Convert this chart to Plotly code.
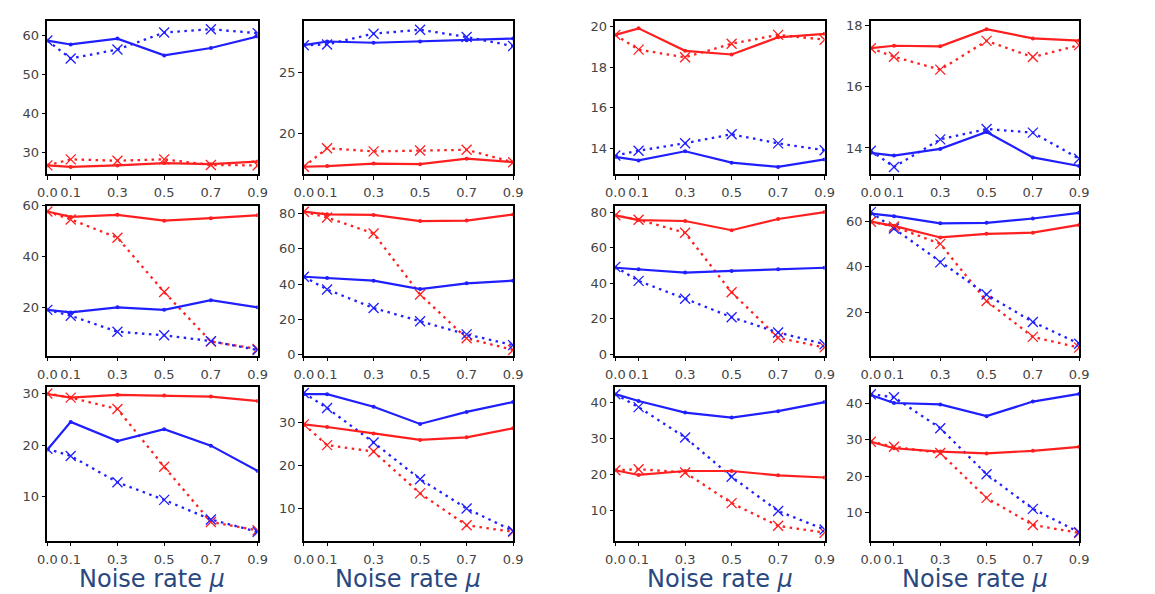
import plotly.graph_objects as go

# Noise rates on the x axis
noise = [0.0, 0.1, 0.3, 0.5, 0.7, 0.9]
tick_vals = [0.0, 0.1, 0.3, 0.5, 0.7, 0.9]
tick_text = ["0.0", "0.1", "0.3", "0.5", "0.7", "0.9"]

# Per-panel series (row-major, 3 rows x 4 columns)
red_solid = [
    [26.7, 26.3, 26.7, 27.3, 27.0, 27.7],
    [17.29, 17.34, 17.55, 17.5, 17.95, 17.66],
    [19.6, 19.92, 18.81, 18.63, 19.48, 19.65],
    [17.26, 17.34, 17.32, 17.88, 17.58, 17.51],
    [57.7, 55.6, 56.4, 54.1, 55.1, 56.2],
    [80.9, 79.4, 79.1, 75.6, 75.9, 79.3],
    [78.2, 75.5, 75.0, 69.8, 76.1, 80.0],
    [59.7, 57.9, 52.8, 54.4, 54.9, 58.3],
    [29.9, 29.2, 29.75, 29.6, 29.4, 28.55],
    [29.5, 28.9, 27.4, 25.9, 26.5, 28.6],
    [21.1, 19.8, 20.9, 20.9, 19.7, 19.1],
    [29.5, 27.7, 26.8, 26.3, 27.0, 28.1],
]
red_dotted = [
    [26.7, 28.25, 27.9, 28.25, 26.8, 26.7],
    [17.29, 18.8, 18.54, 18.62, 18.67, 17.66],
    [19.6, 18.87, 18.49, 19.16, 19.6, 19.36],
    [17.26, 16.98, 16.56, 17.5, 16.97, 17.36],
    [57.7, 54.6, 47.4, 26.0, 6.5, 3.6],
    [80.9, 77.6, 68.6, 34.1, 9.3, 2.7],
    [78.2, 75.7, 68.4, 34.9, 9.3, 3.9],
    [59.7, 57.6, 50.0, 25.0, 9.3, 4.6],
    [30.0, 29.2, 27.0, 15.8, 5.1, 3.5],
    [29.5, 24.7, 23.2, 13.5, 6.1, 4.6],
    [21.1, 21.4, 20.5, 12.0, 5.7, 3.8],
    [29.5, 28.1, 26.4, 14.1, 6.7, 4.5],
]
blue_solid = [
    [58.7, 57.7, 59.2, 54.9, 56.8, 59.75],
    [27.2, 27.5, 27.4, 27.5, 27.6, 27.74],
    [13.57, 13.4, 13.85, 13.29, 13.08, 13.45],
    [13.84, 13.75, 13.97, 14.52, 13.69, 13.41],
    [19.0, 18.0, 20.0, 19.0, 22.8, 20.0],
    [44.1, 43.4, 41.9, 37.1, 40.4, 41.9],
    [48.7, 47.8, 46.0, 46.9, 47.8, 48.7],
    [63.2, 62.1, 59.0, 59.2, 61.1, 63.6],
    [19.1, 24.5, 20.8, 23.1, 19.9, 15.0],
    [36.5, 36.5, 33.6, 29.6, 32.4, 34.7],
    [42.2, 40.3, 37.1, 35.7, 37.5, 40.0],
    [42.3, 40.1, 39.7, 36.5, 40.5, 42.6],
]
blue_dotted = [
    [58.7, 54.1, 56.4, 60.75, 61.6, 60.6],
    [27.2, 27.26, 28.14, 28.46, 27.87, 27.13],
    [13.64, 13.88, 14.25, 14.69, 14.24, 13.9],
    [13.91, 13.38, 14.28, 14.62, 14.5, 13.65],
    [19.0, 16.7, 10.4, 9.0, 6.7, 3.2],
    [44.1, 36.9, 26.4, 18.9, 11.5, 5.4],
    [49.2, 41.3, 31.3, 20.9, 12.3, 5.7],
    [63.9, 56.7, 41.9, 27.8, 15.8, 6.3],
    [19.3, 17.9, 12.8, 9.4, 5.6, 3.2],
    [36.8, 33.3, 25.3, 16.8, 10.0, 4.8],
    [42.2, 38.6, 30.2, 19.3, 9.8, 4.7],
    [42.5, 41.7, 33.2, 20.6, 11.1, 4.7],
]

# Y-axis ranges and tick values per panel
y_ranges = [
    [24.5, 63.8], [16.7, 29.2], [12.73, 20.3], [13.15, 18.16],
    [1.0, 60.0], [-0.5, 84.3], [-0.7, 83.6], [1.1, 66.7],
    [1.5, 31.2], [2.55, 38.1], [1.6, 44.1], [2.4, 44.4],
]
y_ticks = [
    [30, 40, 50, 60], [20, 25], [14, 16, 18, 20], [14, 16, 18],
    [20, 40, 60], [0, 20, 40, 60, 80], [0, 20, 40, 60, 80], [20, 40, 60],
    [10, 20, 30], [10, 20, 30], [10, 20, 30, 40], [10, 20, 30, 40],
]

x_label = "Noise rate <i>μ</i>"

W, H = 1155, 594
col_px = [(38, 252), (299, 512), (616, 829), (876, 1088)]
row_px = [(14, 171), (203.5, 357), (389.5, 546.5)]

RED = "#ff1f1f"
BLUE = "#1f1fff"

fig = go.Figure()
layout = dict(
    width=W, height=H,
    margin=dict(l=0, r=0, t=0, b=0),
    paper_bgcolor="white", plot_bgcolor="white",
    showlegend=False,
    font=dict(family="DejaVu Sans", size=13, color="#444"),
)
annotations = []

for i in range(12):
    r, c = divmod(i, 4)
    n = i + 1
    xa = "x" if n == 1 else f"x{n}"
    ya = "y" if n == 1 else f"y{n}"

    def line(vals, color, dash, width, symbol, size, mw):
        return go.Scatter(
            x=noise, y=vals, xaxis=xa, yaxis=ya, mode="lines+markers",
            line=dict(color=color, width=width, dash=dash),
            marker=dict(symbol=symbol, size=size, color=color,
                        line=dict(color=color, width=mw)),
            hoverinfo="skip",
        )

    fig.add_trace(line(red_dotted[i], RED, "2.5px,4.5px", 2.3, "x-thin", 10, 1.3))
    fig.add_trace(line(blue_dotted[i], BLUE, "2.5px,4.5px", 2.3, "x-thin", 10, 1.3))
    fig.add_trace(line(red_solid[i], RED, "solid", 2.2, "circle", 4, 0))
    fig.add_trace(line(blue_solid[i], BLUE, "solid", 2.2, "circle", 4, 0))

    x0, x1 = col_px[c]
    y0, y1 = row_px[r]
    axis_common = dict(
        showline=True, linecolor="black", linewidth=1.6, mirror=True,
        ticks="outside", ticklen=4, tickwidth=1.2, tickcolor="black",
        showgrid=False, zeroline=False,
        tickfont=dict(family="DejaVu Sans", size=13, color="#444"),
    )
    layout[f"xaxis{'' if n == 1 else n}"] = dict(
        domain=[x0 / W, x1 / W], anchor=ya, range=[0, 0.9],
        tickvals=tick_vals, ticktext=tick_text, ticklabelstandoff=2,
        **axis_common,
    )
    layout[f"yaxis{'' if n == 1 else n}"] = dict(
        domain=[1 - y1 / H, 1 - y0 / H], anchor=xa, range=y_ranges[i],
        tickvals=y_ticks[i], **axis_common,
    )
    if r == 2:
        annotations.append(dict(
            text=x_label, xref="paper", yref="paper",
            x=(x0 + x1) / 2 / W, y=1 - 586 / H,
            xanchor="center", yanchor="middle", showarrow=False,
            font=dict(family="DejaVu Sans", size=24, color="#2a4880"),
        ))

layout["annotations"] = annotations
fig.update_layout(**layout)
fig.write_html("out.html")
